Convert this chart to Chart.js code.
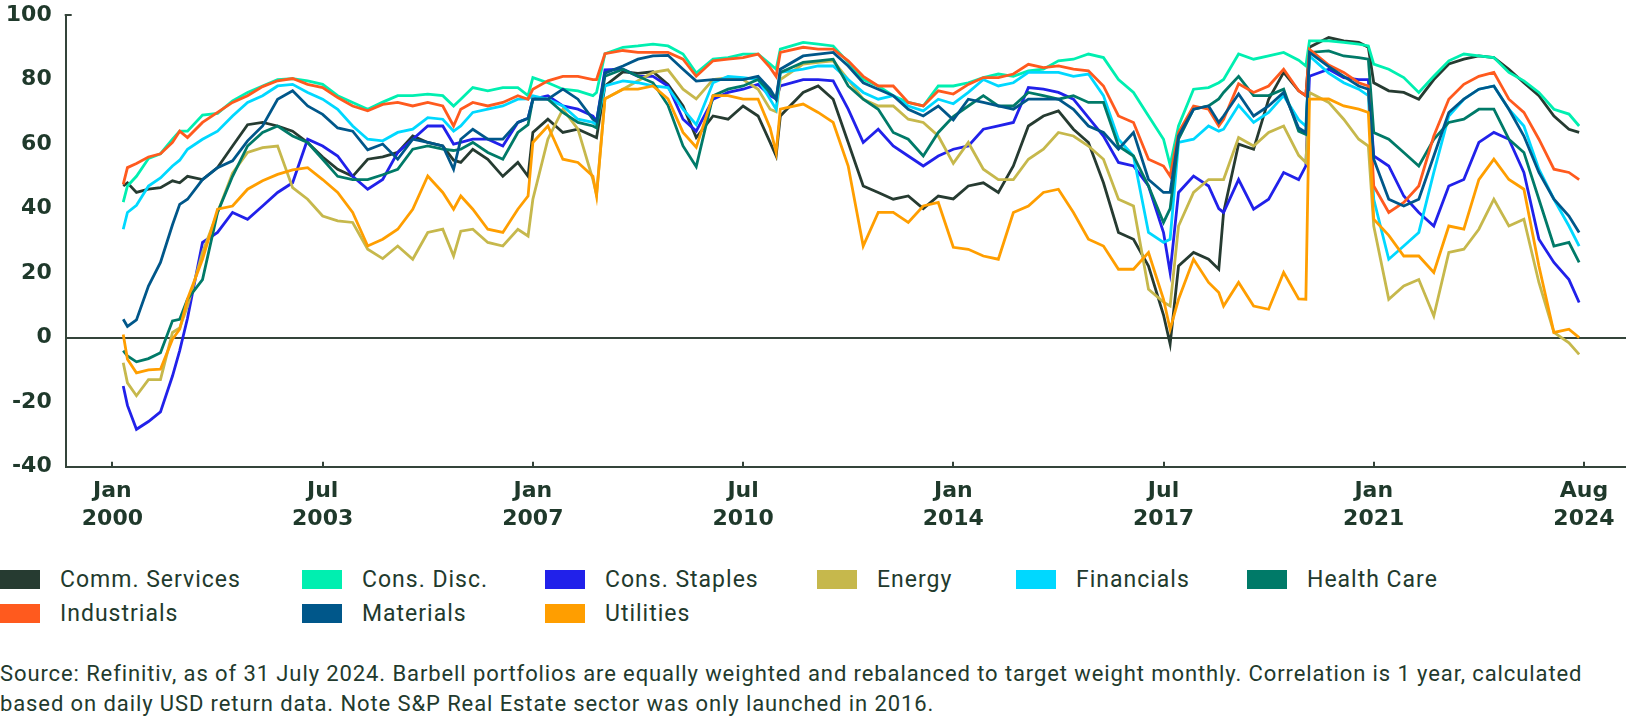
<!DOCTYPE html>
<html>
<head>
<meta charset="utf-8">
<script src="https://cdn.jsdelivr.net/npm/chart.js@4.4.1/dist/chart.umd.min.js"></script>
<style>
  body { margin: 0; background: #fff; width: 1626px; height: 718px; overflow: hidden; position: relative; font-family: Roboto, sans-serif; color: #223a2d; }
  #chart-wrap { position: absolute; left: 0; top: 0; width: 1626px; height: 540px; }
  #legend { position: absolute; left: 0; top: 570px; display: grid; grid-template-columns: 302px 243px 272px 199px 231px auto; row-gap: 15px; }
  .legend-item { display: flex; align-items: center; height: 19px; font-size: 23px; letter-spacing: 1px; white-space: nowrap; }
  .legend-swatch { width: 40px; height: 19px; margin-right: 20px; flex: none; }
  #source { position: absolute; left: 0; top: 659px; font-size: 22px; letter-spacing: 0.9px; line-height: 30px; white-space: nowrap; }
</style>
</head>
<body>
<div id="chart-wrap"><canvas id="corr-chart"></canvas></div>
<div id="legend"></div>
<div id="source">Source: Refinitiv, as of 31 July 2024. Barbell portfolios are equally weighted and rebalanced to target weight monthly. Correlation is 1 year, calculated<br>based on daily USD return data. Note S&amp;P Real Estate sector was only launched in 2016.</div>
<script>
// dates as decimal years
const dates = [2000.18, 2000.25, 2000.4, 2000.6, 2000.8, 2001.0, 2001.12, 2001.25, 2001.5, 2001.75,
  2002.0, 2002.25, 2002.5, 2002.75, 2003.0, 2003.25, 2003.5, 2003.75, 2004.0, 2004.25,
  2004.5, 2004.75, 2005.0, 2005.25, 2005.5, 2005.68, 2005.8, 2006.0, 2006.25, 2006.5,
  2006.75, 2006.92, 2007.0, 2007.25, 2007.5, 2007.75, 2008.0, 2008.06, 2008.2, 2008.5,
  2008.75, 2009.0, 2009.25, 2009.5, 2009.72, 2010.0, 2010.25, 2010.5, 2010.75, 2010.95,
  2011.05, 2011.12, 2011.5, 2011.75, 2012.0, 2012.25, 2012.5, 2012.75, 2013.0, 2013.25,
  2013.5, 2013.75, 2014.0, 2014.25, 2014.5, 2014.75, 2015.0, 2015.25, 2015.5, 2015.75,
  2016.0, 2016.25, 2016.5, 2016.75, 2017.0, 2017.25, 2017.5, 2017.61, 2017.75, 2018.0,
  2018.25, 2018.42, 2018.5, 2018.75, 2019.0, 2019.25, 2019.5, 2019.75, 2019.87, 2019.93,
  2020.25, 2020.5, 2020.75, 2020.91, 2021.0, 2021.25, 2021.5, 2021.75, 2022.0, 2022.25,
  2022.5, 2022.75, 2023.0, 2023.25, 2023.5, 2023.75, 2024.0, 2024.25, 2024.42];

const commServices = [47, 48, 45, 46, 46.5, 48.6, 48, 50, 49, 52.7,
  59.4, 66, 66.7, 65.6, 64, 60.5, 56, 52.2, 50, 55.3,
  56, 57.4, 62.5, 60.5, 59.4, 55, 54.3, 58.4, 55.3, 50,
  54.3, 50, 63.6, 67.7, 63.6, 64.6, 62.5, 62, 78, 82.4,
  81.9, 82.4, 78.5, 71.8, 62, 68.7, 67.7, 71.8, 68.7, 60.5,
  56.3, 68.7, 76, 78, 73.9, 60.5, 47, 45, 42.9, 43.9,
  40, 43.9, 43, 47, 48, 45, 53.2, 65.6, 68.7, 70.3,
  64.6, 60.5, 48, 32.6, 30.5, 22.2, 7, -2, 22.2, 26.4,
  24.3, 21.2, 38.8, 60, 58.4, 73.9, 82.2, 76.5, 75, 90,
  93, 92, 91.5, 90, 79, 76.5, 76, 73.9, 80, 84.8,
  86.3, 87.3, 86.8, 83.2, 79, 75, 68.7, 64.6, 63.6];

const consDisc = [42, 47, 50, 55.5, 57, 61.5, 64, 64, 69, 69.5,
  73.4, 76, 78, 80, 80.3, 79.6, 78.5, 75, 72.9, 70.8,
  73, 75, 75, 75.5, 75, 71.8, 73.9, 77.5, 76.5, 77.5,
  77.5, 75, 80.6, 79, 77, 76.5, 75, 76, 88, 90,
  90.4, 91, 90.4, 87.9, 82, 86.3, 86.8, 87.9, 87.9, 84.8,
  83.2, 89.4, 91.5, 91, 90.4, 85.3, 80, 78, 75, 72.9,
  71.8, 78, 78, 79, 80.6, 81.7, 81, 82.7, 83.2, 85.8,
  86.3, 87.9, 86.8, 80, 76, 68.7, 61.5, 53.5, 65.6, 77,
  77.5, 79, 80, 87.9, 86.3, 87.3, 88.4, 86, 84.2, 92,
  92, 91.5, 91, 90.4, 84.8, 83.2, 80.6, 76, 81, 85.8,
  87.9, 87.3, 86.8, 82.2, 79.6, 76, 70.8, 69.3, 65.6];

const consStaples = [-15, -21, -28.4, -26, -23, -11.9, -4, 6, 29.5, 32.6,
  38.8, 36.7, 40.8, 45, 48, 61.5, 59.4, 56.3, 50, 46,
  49, 57.4, 61.5, 65.6, 65.6, 60, 60.5, 61.5, 61.5, 59.4,
  66.7, 68, 73.9, 75, 71.8, 70.8, 68.7, 67, 83, 83.2,
  81, 81, 78, 67.7, 64, 73.9, 76, 77, 78.5, 75,
  74, 78, 80, 80, 79.6, 70.8, 60.5, 64.6, 59.4, 56.3,
  53.2, 56.3, 58.4, 59.4, 64.6, 65.6, 66.7, 77.5, 77, 76,
  73.9, 68.2, 62.5, 54.3, 53.2, 47, 32.6, 20.2, 45, 50.1,
  47, 40, 38.8, 49, 39.8, 42.9, 51.2, 49, 53.2, 81,
  83.2, 80.6, 80, 80, 56.3, 53.2, 43.9, 38.8, 34.6, 47,
  49, 60.5, 63.6, 61.5, 51.2, 30.5, 23.3, 18, 10.9];

const energy = [-7.8, -14, -18, -13, -13, 1.6, 3, 9.8, 26.4, 38.8,
  51, 57.4, 58.9, 59.4, 46.5, 42.9, 37.7, 36.2, 35.7, 27.4,
  24.5, 28.4, 24.3, 32.6, 33.6, 25.3, 33, 33.6, 29.5, 28.4,
  33.6, 31.5, 42.9, 61.5, 70.8, 64.6, 49, 44.4, 74, 77,
  79.6, 82.2, 83, 77, 74, 80, 80.6, 80, 77, 70.8,
  70, 80, 84.8, 85.3, 85.8, 80, 73.9, 71.8, 71.8, 67.7,
  66.7, 62.5, 54, 60.5, 52.2, 49, 49, 55.3, 58.4, 63.6,
  62.5, 59.4, 55.3, 42.9, 40.8, 15, 11, 9.8, 34.6, 45,
  49, 49, 49, 62, 59.4, 63.6, 65.6, 56.5, 54.3, 76,
  72.9, 67.7, 61.5, 59.4, 34.6, 11.9, 16, 18, 6.7, 26.4,
  27.4, 33.6, 42.9, 34.6, 36.7, 17.1, 1.6, -1.6, -5.2];

const financials = [33.6, 38.8, 41, 47, 49.5, 53.2, 55, 58.4, 61.5, 64,
  68.7, 72.9, 75, 78, 78.5, 76, 73.9, 70.8, 65.6, 61.5,
  61, 63.6, 64.6, 68.2, 67.7, 64, 65.6, 69.8, 70.8, 71.8,
  73.9, 74, 75, 73.9, 71.8, 67.7, 66.7, 66, 78, 79.6,
  79, 78, 77.5, 70.8, 66, 79, 81, 80.6, 80, 73.9,
  70.8, 82.2, 83.2, 84.2, 84.2, 80, 76, 73.9, 75, 71.8,
  70.3, 73.9, 72.5, 76, 80, 78, 79, 82.2, 82.2, 82.2,
  81, 81.7, 75, 61.5, 56.3, 32.6, 29.5, 30.5, 60.5, 61.5,
  65.6, 64, 64.6, 72, 66.7, 69.8, 75, 67.5, 65.6, 87.3,
  82, 79, 77, 75, 42.9, 24.3, 28.4, 32.6, 51.2, 68.7,
  73.9, 77, 78, 70.8, 65.6, 52.2, 42.9, 34.6, 28.4];

const healthCare = [-4, -5.7, -7.5, -6.5, -4.7, 5.2, 5.7, 11.9, 18, 38.8,
  50, 59.4, 63.6, 65.6, 62.5, 60.5, 55.3, 50, 49, 49,
  50.5, 52.2, 58.4, 59.4, 58.4, 58, 58.4, 60.5, 57.4, 55.3,
  63.6, 66, 73.9, 73.9, 69.8, 66.7, 65.6, 65, 81, 83.2,
  81, 79, 72, 59.4, 53, 75, 77, 78, 80, 76,
  73.9, 82.2, 85.3, 85.8, 86.3, 78, 73.9, 70.8, 63.6, 61.5,
  56.3, 63.6, 68.5, 71.8, 75, 71.8, 71.8, 76, 75, 73.9,
  75, 72.9, 72.9, 59.4, 56.3, 47, 35.7, 40, 61.5, 70.8,
  71.8, 74, 76, 81, 75, 75, 77, 64, 63, 88.4,
  88.9, 87.3, 86.8, 86.3, 63.6, 61.5, 57.4, 53.2, 61.5, 66.7,
  67.7, 70.8, 70.8, 61.5, 57.4, 42.9, 28.4, 29.5, 23.3];

const industrials = [47.5, 52.7, 54, 56, 57, 60.5, 64, 62, 66.7, 69.8,
  72.9, 75, 77.8, 79.6, 80.3, 78.5, 77.5, 74.4, 71.8, 70.3,
  72.3, 72.9, 71.8, 72.9, 71.8, 65.6, 70.8, 72.9, 71.8, 72.9,
  75, 73.9, 77, 79.6, 81, 81, 80, 80, 88, 89,
  88.4, 88.4, 88.4, 86.3, 81, 85.8, 86.3, 86.8, 87.9, 83.7,
  81, 88.4, 90, 89.4, 89.4, 85.8, 81, 78, 78, 72.9,
  71.8, 76.5, 75.5, 78.5, 80.6, 80.6, 81.7, 84.7, 83.7, 84.2,
  83.2, 82.7, 78, 68.7, 66.7, 55.3, 53.2, 50.1, 63.6, 71.8,
  70.8, 65.6, 67.7, 78.7, 76, 78, 83.2, 76.5, 75, 89.4,
  84.5, 82.2, 79, 78, 47, 38.8, 41.9, 47, 62.5, 73.9,
  78.5, 81, 82.2, 73.9, 69.8, 61.5, 52.2, 51.2, 49];

const materials = [5.7, 3.5, 5.5, 16, 23.3, 35, 41.3, 42.9, 49, 52.7,
  54.8, 61, 65.6, 73.9, 76.5, 71.8, 69.2, 65, 64, 58.2,
  60, 55.3, 61.5, 60.5, 59.4, 52.2, 61.5, 64.6, 61.5, 61.5,
  66.7, 68, 73.9, 73.9, 77, 73.9, 67.7, 67, 82, 84.2,
  86.3, 87.3, 87.5, 83.2, 79.5, 80, 80, 80, 81, 77,
  73.9, 83.2, 87.3, 87.9, 88.4, 84.2, 79, 77, 75, 70.8,
  68.7, 71.8, 67.5, 73.9, 72.9, 71.8, 70.8, 73.9, 73.9, 73.9,
  70.8, 65.6, 63.6, 58.4, 63.6, 49, 45, 45, 62.5, 70.8,
  71.8, 66.7, 68.7, 75.5, 68.7, 71.8, 76, 65, 63.6, 88.4,
  84, 81, 78, 77, 55.3, 42.9, 40.8, 42.9, 56.3, 69.8,
  73.9, 77, 78, 70.8, 62.5, 51.2, 42.9, 37.7, 32.6];

const utilities = [1, -6.7, -10.9, -10, -9.8, -0.5, 2.6, 12, 24.3, 39.8,
  40.8, 46, 48.6, 50.6, 52, 52.7, 49, 45, 38.8, 28.4,
  30.5, 33.6, 39.8, 50.1, 45, 39.8, 43.9, 39.8, 33.6, 32.6,
  39.8, 43.9, 60.5, 65.6, 55.3, 54.3, 50, 43.9, 74, 77,
  77, 78, 74, 63.6, 59, 75, 75, 73.9, 73.9, 65,
  57.4, 70.8, 72.4, 69.8, 66.7, 53.2, 28.4, 38.8, 38.8, 35.7,
  40.8, 41.9, 28, 27.4, 25.3, 24.3, 38.8, 40.8, 45, 46,
  38.8, 30.5, 28.4, 21.2, 21.2, 26.4, 11.9, 2.6, 11.9, 24.3,
  17.1, 14, 9.8, 17.1, 9.8, 8.8, 20.2, 12, 11.9, 73.9,
  74, 71.8, 70.8, 69.8, 36.7, 31.7, 25.3, 25.3, 20.2, 34.6,
  33.6, 49, 55.3, 49, 46, 22.2, 1.6, 2.6, 0];

const seriesNames = ['Comm. Services', 'Cons. Disc.', 'Cons. Staples', 'Energy', 'Financials',
  'Health Care', 'Industrials', 'Materials', 'Utilities'];
const seriesColors = ['#263b31', '#00efb0', '#2121ea', '#c6b84c', '#00d8ff',
  '#007a68', '#ff5a1e', '#00578a', '#ff9e00'];
const seriesValues = [commServices, consDisc, consStaples, energy, financials,
  healthCare, industrials, materials, utilities];

// x axis ticks (every 3.5 years)
const tickValues = [2000, 2003.5, 2007, 2010.5, 2014, 2017.5, 2021, 2024.5];
const tickMonths = ['Jan', 'Jul', 'Jan', 'Jul', 'Jan', 'Jul', 'Jan', 'Aug'];
const tickYears = ['2000', '2003', '2007', '2010', '2014', '2017', '2021', '2024'];

const axisColor = '#34443a';
const textColor = '#1f392b';

// small tick marks pointing into the plot
const innerTicks = {
  id: 'innerTicks',
  afterDraw(chart) {
    const { ctx, scales: { x }, chartArea } = chart;
    ctx.save();
    ctx.strokeStyle = axisColor;
    ctx.lineWidth = 2;
    tickValues.forEach(v => {
      const px = Math.round(x.getPixelForValue(v));
      ctx.beginPath();
      ctx.moveTo(px, chartArea.bottom);
      ctx.lineTo(px, chartArea.bottom - 5);
      ctx.stroke();
    });
    // cap at the top of the y axis
    ctx.beginPath();
    ctx.moveTo(chartArea.left - 1, chartArea.top);
    ctx.lineTo(chartArea.left + 6, chartArea.top);
    ctx.stroke();
    ctx.restore();
  }
};

const datasets = seriesNames.map((name, i) => ({
  label: name,
  data: dates.map((d, j) => ({ x: d, y: seriesValues[i][j] })),
  borderColor: seriesColors[i],
  backgroundColor: seriesColors[i],
  borderWidth: 2.8,
  pointRadius: 0,
  tension: 0,
  order: seriesNames.length - i
}));

new Chart(document.getElementById('corr-chart'), {
  type: 'line',
  data: { datasets },
  plugins: [innerTicks],
  options: {
    responsive: true,
    maintainAspectRatio: false,
    animation: false,
    layout: { padding: 0 },
    plugins: {
      legend: { display: false },
      tooltip: { enabled: false }
    },
    scales: {
      x: {
        type: 'linear',
        min: 1999.222,
        max: 2025.2,
        afterFit: (s) => { s.height = 73.3; },
        afterBuildTicks: (axis) => { axis.ticks = tickValues.map(v => ({ value: v })); },
        grid: { display: false, drawTicks: false },
        border: { display: true, color: axisColor, width: 2 },
        ticks: {
          autoSkip: false,
          maxRotation: 0,
          padding: 10,
          color: textColor,
          font: { family: 'DejaVu Sans', size: 22, weight: 'bold', lineHeight: 1.3 },
          callback: (value, index) => [tickMonths[index], tickYears[index]]
        }
      },
      y: {
        min: -40,
        max: 100,
        afterFit: (s) => { s.width = 65.7; s.paddingTop = 15; s.paddingBottom = 13; },
        grid: {
          drawTicks: false,
          lineWidth: 2,
          color: (c) => (c.tick && c.tick.value === 0 ? axisColor : 'rgba(0,0,0,0)')
        },
        border: { display: true, color: axisColor, width: 2 },
        ticks: {
          stepSize: 20,
          padding: 14,
          color: textColor,
          font: { family: 'DejaVu Sans', size: 22, weight: 'bold' }
        }
      }
    }
  }
});

// legend laid out in a grid under the chart
const legendEl = document.getElementById('legend');
seriesNames.forEach((name, i) => {
  const item = document.createElement('div');
  item.className = 'legend-item';
  const swatch = document.createElement('span');
  swatch.className = 'legend-swatch';
  swatch.style.background = seriesColors[i];
  const label = document.createElement('span');
  label.textContent = name;
  item.appendChild(swatch);
  item.appendChild(label);
  legendEl.appendChild(item);
});
</script>
</body>
</html>
